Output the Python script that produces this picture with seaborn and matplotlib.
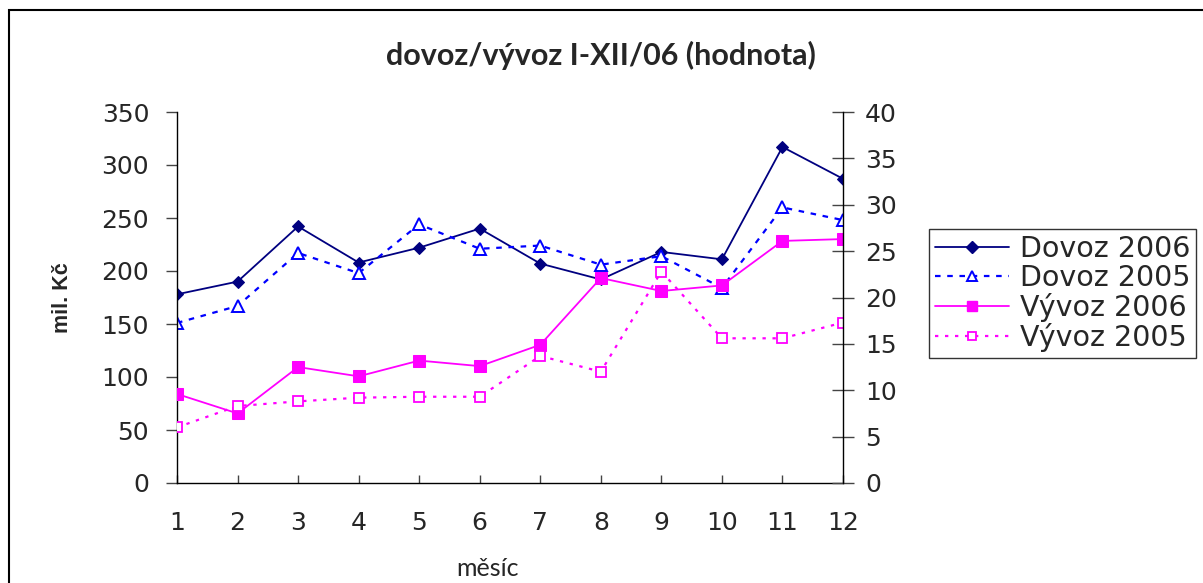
import matplotlib
matplotlib.use("Agg")
import matplotlib.pyplot as plt
import seaborn as sns
import pandas as pd
from matplotlib.patches import Rectangle
from matplotlib.lines import Line2D

months = [1, 2, 3, 4, 5, 6, 7, 8, 9, 10, 11, 12]
dovoz_2006 = [178, 190, 242, 208, 222, 240, 207, 192, 218, 211, 317, 287]
dovoz_2005 = [151, 167, 217, 198, 244, 221, 224, 206, 214, 184, 260, 248]
vyvoz_2006 = [9.6, 7.5, 12.5, 11.5, 13.2, 12.6, 14.9, 22.1, 20.7, 21.3, 26.1, 26.3]
vyvoz_2005 = [6.0, 8.3, 8.8, 9.2, 9.3, 9.3, 13.7, 12.0, 22.8, 15.6, 15.6, 17.3]
left_ticks = [0, 50, 100, 150, 200, 250, 300, 350]
right_ticks = [0, 5, 10, 15, 20, 25, 30, 35, 40]
title = "dovoz/vývoz I-XII/06 (hodnota)"
ylabel = "mil. Kč"
xlabel = "měsíc"

sns.set_style("white")
plt.rcParams['font.family'] = ['DejaVu Sans']

df = pd.DataFrame({"month": months, "Dovoz 2006": dovoz_2006, "Dovoz 2005": dovoz_2005,
                   "Výv 2006": vyvoz_2006, "Výv 2005": vyvoz_2005})

fig = plt.figure(figsize=(12.03, 5.83), dpi=100)
ax = fig.add_axes([177/1203, 1-483/583, (843-177)/1203, (483-112)/583])
ax2 = ax.twinx()

navy = "#000080"
blue = "#0000FF"
mag = "#FF00FF"

sns.lineplot(data=df, x="month", y="Dovoz 2006", ax=ax, color=navy, lw=1.3,
             marker="D", markersize=6, markerfacecolor=navy, markeredgecolor=navy)
sns.lineplot(data=df, x="month", y="Dovoz 2005", ax=ax, color=blue, lw=1.6,
             linestyle=(0, (2.5, 3)), marker="^", markersize=8,
             markerfacecolor="white", markeredgecolor=blue, markeredgewidth=1.4)
sns.lineplot(data=df, x="month", y="Výv 2006", ax=ax2, color=mag, lw=1.3,
             marker="s", markersize=8, markerfacecolor=mag, markeredgecolor=mag)
sns.lineplot(data=df, x="month", y="Výv 2005", ax=ax2, color=mag, lw=1.6,
             linestyle=(0, (1.5, 3)), marker="s", markersize=7,
             markerfacecolor="white", markeredgecolor=mag, markeredgewidth=1.3)

ax.set_xlim(1, 12)
ax.set_ylim(0, 350)
ax2.set_ylim(0, 40)
ax.set_xticks(months)
ax.set_yticks(left_ticks)
ax2.set_yticks(right_ticks)

for a in (ax, ax2):
    a.spines['top'].set_visible(False)
    a.set_xlabel("")
    a.set_ylabel("")
    a.grid(False)
ax.spines['right'].set_visible(False)
ax2.spines['left'].set_visible(False)
ax2.spines['bottom'].set_visible(False)
for s in [ax.spines['left'], ax.spines['bottom'], ax2.spines['right']]:
    s.set_color("black")
    s.set_linewidth(1.0)

ax.tick_params(axis='y', direction='out', length=8, width=1, color='#444444',
               labelsize=18, pad=12, left=True)
ax.tick_params(axis='x', direction='in', length=6, width=1, color='#444444',
               labelsize=18, pad=20, bottom=True)
ax2.tick_params(axis='y', direction='inout', length=16, width=1, color='#444444',
                labelsize=18, pad=8, right=True)

fig.text(601/1203, 1-55/583, title, ha='center', va='center', fontsize=22,
         fontweight='bold', family=['Lato', 'DejaVu Sans'])
fig.text(62/1203, 1-298/583, ylabel, ha='center', va='center', fontsize=15.5,
         fontweight='bold', rotation=90, family=['Liberation Sans Narrow', 'Liberation Sans', 'DejaVu Sans'])
fig.text(488/1203, 1-568/583, xlabel, ha='center', va='center', fontsize=18,
         family=['Lato', 'DejaVu Sans'])

handles = [
    Line2D([], [], color=navy, lw=1.3, marker="D", markersize=6, markerfacecolor=navy),
    Line2D([], [], color=blue, lw=1.6, linestyle=(0, (2.5, 3)), marker="^", markersize=7,
           markerfacecolor="white", markeredgecolor=blue, markeredgewidth=1.4),
    Line2D([], [], color=mag, lw=1.3, marker="s", markersize=7, markerfacecolor=mag),
    Line2D([], [], color=mag, lw=1.6, linestyle=(0, (1.5, 3)), marker="s", markersize=6,
           markerfacecolor="white", markeredgecolor=mag, markeredgewidth=1.3),
]
labels = ["Dovoz 2006", "Dovoz 2005", "Vývoz 2006", "Vývoz 2005"]
leg = fig.legend(handles, labels, loc='upper left', bbox_to_anchor=(929/1203, 1-229/583),
                 fontsize=20.5, frameon=True, fancybox=False, handlelength=2.6,
                 handletextpad=0.4, borderpad=0.2, labelspacing=0.04, borderaxespad=0)
leg.get_frame().set_edgecolor("black")
leg.get_frame().set_linewidth(1.0)

fig.patches.append(Rectangle((9/1203, -0.1), 1.2, 1.1 - 10/583, transform=fig.transFigure,
                             fill=False, edgecolor="black", lw=1.5))

fig.savefig("out.png", dpi=100)
